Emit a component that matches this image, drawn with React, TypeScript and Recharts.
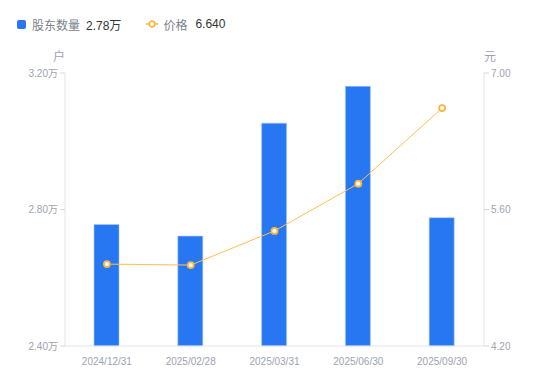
import React from "react";
import {
  ComposedChart, Bar, Line, XAxis, YAxis,
} from "recharts";

const dates = ["2024/12/31", "2025/02/28", "2025/03/31", "2025/06/30", "2025/09/30"];
const holders = [2.756, 2.722, 3.053, 3.161, 2.776];
const prices = [5.04, 5.03, 5.38, 5.865, 6.64];
const leftTicks = [2.4, 2.8, 3.2];
const rightTicks = [4.2, 5.6, 7.0];

const data = dates.map((d, i) => ({ date: d, holders: holders[i], price: prices[i] }));

const FONT = '"Liberation Sans", Arial, "Noto Sans CJK SC", sans-serif';
const TICK = { fill: "#9ea2b0", fontSize: 10, fontFamily: FONT };
const AXIS_LINE = { stroke: "#e3e4e8" };

function LegendBox() {
  return (
    <div
      style={{
        position: "absolute", left: 0, top: 14, display: "flex", alignItems: "center",
        fontFamily: FONT, fontSize: 12, height: 20,
      }}
    >
      <span style={{ width: 9, height: 9, borderRadius: 2, background: "#2677f1", marginLeft: 17, marginRight: 6 }} />
      <span style={{ color: "#7b7f8c" }}>股东数量</span>
      <span style={{ color: "#333", marginLeft: 6 }}>2.78万</span>
      <svg width={12} height={10} style={{ marginLeft: 25, marginRight: 5 }}>
        <line x1={0} y1={5} x2={12} y2={5} stroke="#ffb53d" strokeWidth={1.5} />
        <circle cx={6} cy={5} r={2.8} fill="#fff" stroke="#ffb53d" strokeWidth={1.8} />
      </svg>
      <span style={{ color: "#7b7f8c" }}>价格</span>
      <span style={{ color: "#333", marginLeft: 8 }}>6.640</span>
    </div>
  );
}

const unitLabel = (text: string, dx: number) => (props: any) => {
  const vb = props.viewBox;
  return (
    <text x={vb.x + dx} y={vb.y - 12} fill="#9ea2b0" fontSize={12} fontFamily={FONT} textAnchor="middle">
      {text}
    </text>
  );
};

export default function App() {
  return (
    <div style={{ position: "absolute", left: 0, top: 0, width: 550, height: 381, background: "#fff" }}>
      <ComposedChart width={550} height={381} data={data} margin={{ top: 73, right: 6, left: 5, bottom: 5 }}>
        <XAxis
          dataKey="date"
          tick={TICK}
          axisLine={AXIS_LINE}
          tickLine={false}
          height={30}
          tickMargin={6}
        />
        <YAxis
          yAxisId="left"
          orientation="left"
          width={60}
          domain={[2.4, 3.2]}
          ticks={leftTicks}
          tickFormatter={(v: number) => v.toFixed(2) + "万"}
          tick={TICK}
          axisLine={AXIS_LINE}
          tickLine={{ stroke: "#d6d7dc" }}
          tickSize={5}
          tickMargin={2}
          label={{ content: unitLabel("户", 54) }}
        />
        <YAxis
          yAxisId="right"
          orientation="right"
          width={60}
          domain={[4.2, 7.0]}
          ticks={rightTicks}
          tickFormatter={(v: number) => v.toFixed(2)}
          tick={TICK}
          axisLine={AXIS_LINE}
          tickLine={{ stroke: "#d6d7dc" }}
          tickSize={5}
          tickMargin={2}
          label={{ content: unitLabel("元", 6) }}
        />
        <Bar
          yAxisId="left"
          dataKey="holders"
          fill="#2677f1"
          stroke="#a8c8fb"
          strokeWidth={0.6}
          barSize={25}
          isAnimationActive={false}
        />
        <Line
          yAxisId="right"
          type="linear"
          dataKey="price"
          stroke="#ffbf4f"
          strokeWidth={1}
          dot={{ r: 3, fill: "#fff", stroke: "#ffb53d", strokeWidth: 1.8 }}
          activeDot={false}
          isAnimationActive={false}
        />
      </ComposedChart>
      <LegendBox />
    </div>
  );
}
